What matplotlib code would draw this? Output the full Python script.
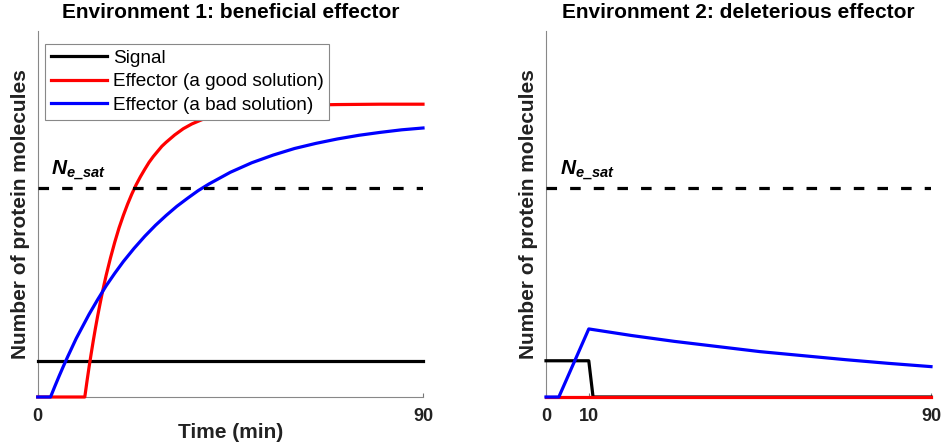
import matplotlib
matplotlib.use("Agg")
import matplotlib.pyplot as plt

plt.rcParams["font.family"] = ["Liberation Sans", "DejaVu Sans"]
plt.rcParams["mathtext.fontset"] = "custom"
plt.rcParams["mathtext.it"] = "Liberation Sans:italic:bold"
plt.rcParams["mathtext.rm"] = "Liberation Sans:italic:bold"

# ---- data (arbitrary units, 0..1 of the y range) ----
n_sat = 0.572

# environment 1: beneficial effector
env1_signal_t = [0, 90]
env1_signal_n = [0.099, 0.099]
env1_good_t = [0, 11, 11.5, 12, 12.5, 13, 13.5, 14, 14.5, 15, 15.5, 16, 17,
               18, 19, 20, 21, 22, 23, 24, 25, 26, 27, 28, 29, 30, 32, 34, 36,
               38, 40, 43, 46, 50, 55, 60, 65, 70, 80, 90]
env1_good_n = [0, 0, 0.042, 0.082, 0.119, 0.155, 0.189, 0.221, 0.251, 0.280,
               0.307, 0.333, 0.380, 0.423, 0.462, 0.496, 0.527, 0.555, 0.580,
               0.602, 0.622, 0.641, 0.657, 0.671, 0.685, 0.696, 0.716, 0.733,
               0.746, 0.756, 0.765, 0.774, 0.781, 0.788, 0.793, 0.796, 0.798,
               0.799, 0.800, 0.800]
env1_bad_t = [0, 3, 4, 5, 6, 7, 8, 9, 10, 12, 14, 16, 18, 20, 22.5, 25, 27.5,
              30, 32.5, 35, 37.5, 40, 42.5, 45, 47.5, 50, 55, 60, 65, 70, 75,
              80, 85, 90]
env1_bad_n = [0, 0, 0.029, 0.057, 0.084, 0.110, 0.135, 0.160, 0.182, 0.226,
              0.266, 0.304, 0.338, 0.370, 0.406, 0.439, 0.469, 0.496, 0.521,
              0.543, 0.564, 0.582, 0.598, 0.614, 0.627, 0.640, 0.661, 0.679,
              0.693, 0.705, 0.715, 0.723, 0.730, 0.735]

# environment 2: deleterious effector
env2_signal_t = [0, 10, 11, 90]
env2_signal_n = [0.099, 0.099, 0, 0]
env2_good_t = [0, 90]
env2_good_n = [0, 0]
env2_bad_t = [0, 3, 10, 20, 30, 40, 50, 60, 70, 80, 90]
env2_bad_n = [0, 0, 0.186, 0.168, 0.152, 0.138, 0.124, 0.113, 0.102, 0.092,
              0.083]

titles = ["Environment 1: beneficial effector",
          "Environment 2: deleterious effector"]
xticks = [[0, 90], [0, 10, 90]]
legend_labels = ["Signal", "Effector (a good solution)",
                 "Effector (a bad solution)"]

W, H = 941, 448
fig = plt.figure(figsize=(W / 100, H / 100), dpi=100)
ax1 = fig.add_axes([37.7 / W, 51 / H, 385.3 / W, 366 / H])
ax2 = fig.add_axes([546 / W, 51 / H, 385 / W, 366 / H])

envs = [
    (ax1, env1_signal_t, env1_signal_n, env1_good_t, env1_good_n,
     env1_bad_t, env1_bad_n),
    (ax2, env2_signal_t, env2_signal_n, env2_good_t, env2_good_n,
     env2_bad_t, env2_bad_n),
]

lw = 2.3
for i, (ax, st, sn, gt, gn, bt, bn) in enumerate(envs):
    ax.plot(st, sn, color="black", lw=lw, clip_on=False, zorder=3,
            label=legend_labels[0])
    ax.plot(gt, gn, color="red", lw=lw, clip_on=False, zorder=3,
            label=legend_labels[1])
    ax.plot(bt, bn, color="blue", lw=lw, clip_on=False, zorder=3,
            label=legend_labels[2])
    ax.plot([0, 90], [n_sat, n_sat], color="black", lw=lw,
            dashes=(3.3, 4.1), zorder=3)
    ax.text(3.2, n_sat + 0.035, r"$N_{e\_sat}$", fontsize=15)

    ax.set_xlim(0, 90)
    ax.set_ylim(0, 1)
    ax.set_xticks(xticks[i])
    ax.set_yticks([])
    ax.tick_params(axis="x", direction="in", length=3, pad=8,
                   labelsize=13, color="#777777")
    for lab in ax.get_xticklabels():
        lab.set_fontweight("bold")
        lab.set_color("#222222")
    for side in ["top", "right"]:
        ax.spines[side].set_visible(False)
    for side in ["left", "bottom"]:
        ax.spines[side].set_color("#888888")
        ax.spines[side].set_linewidth(0.8)

    ax.set_title(titles[i], fontsize=15, fontweight="bold", pad=9)
    ax.set_ylabel("Number of protein molecules", fontsize=15,
                  fontweight="bold", color="#222222")
    ax.yaxis.set_label_coords(-0.02, 0.5)

ax1.set_xlabel("Time (min)", fontsize=15, fontweight="bold", color="#222222")
ax1.xaxis.set_label_coords(0.5, -0.072)

leg = ax1.legend(loc="upper left", bbox_to_anchor=(0.02, 0.965),
                 borderaxespad=0, fontsize=13.7, handlelength=2.95,
                 handletextpad=0.3, labelspacing=0.33, borderpad=0.3,
                 fancybox=False, framealpha=1)
leg.get_frame().set_edgecolor("#888888")
leg.get_frame().set_linewidth(0.8)

fig.savefig("out.png", dpi=100)
